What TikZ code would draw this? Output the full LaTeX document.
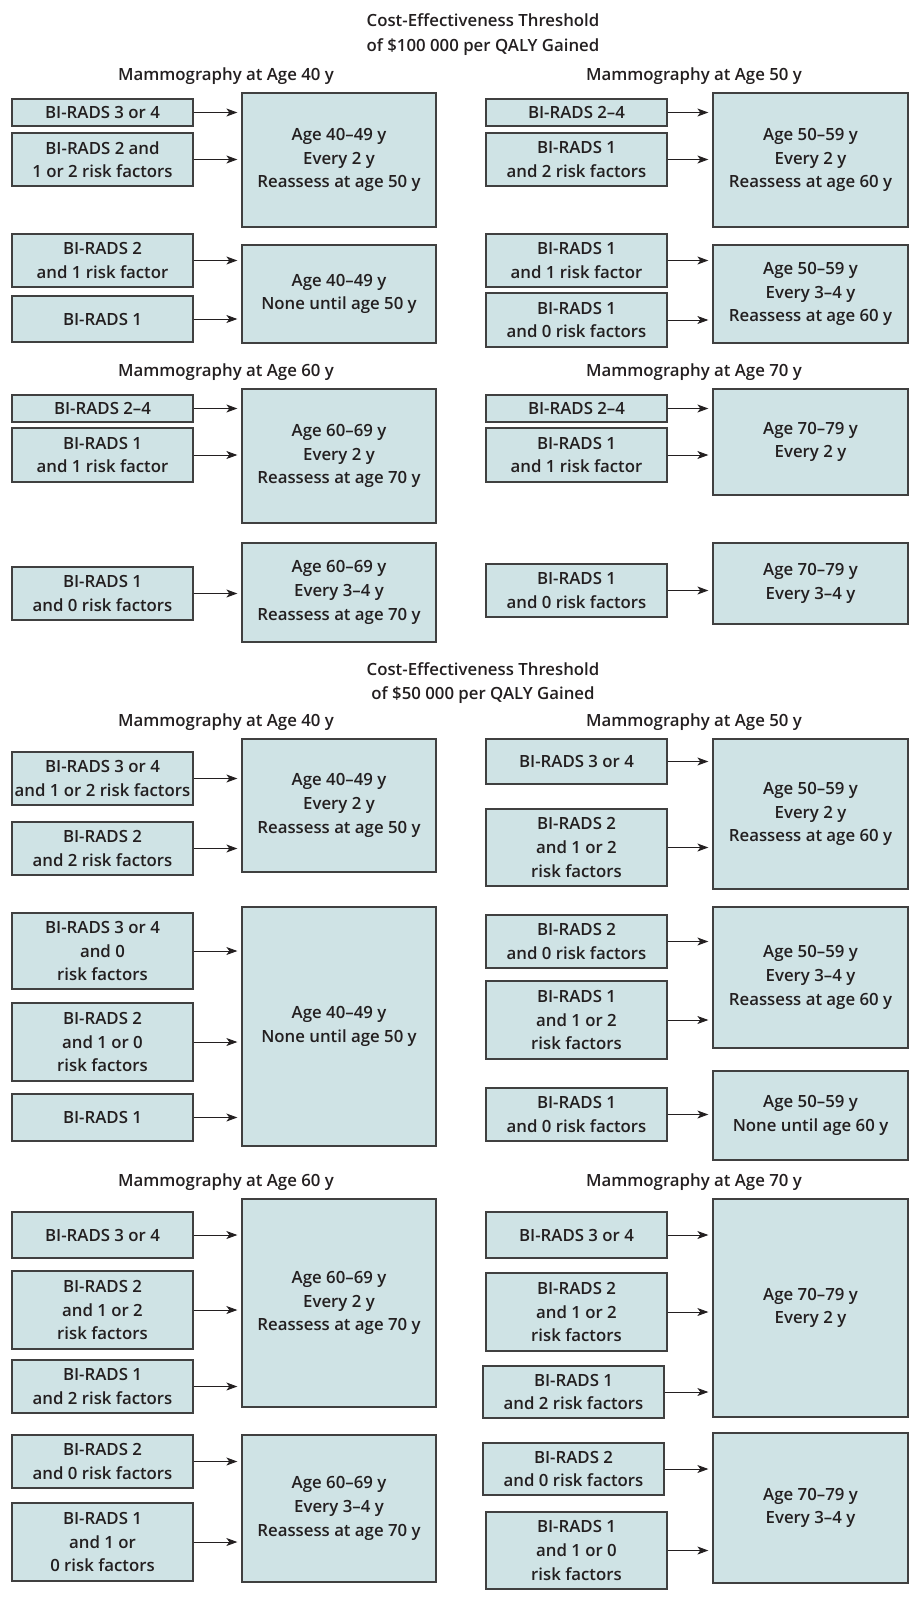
\documentclass[tikz,border=0pt]{standalone}
\usepackage{fontspec}
\IfFontExistsTF{Open Sans SemiBold}{\setmainfont{Open Sans SemiBold}}{%
  \IfFontExistsTF{Open Sans Semibold}{\setmainfont{Open Sans Semibold}}{%
    \setmainfont{Open Sans}[FakeBold=1.2]}}
\usetikzlibrary{arrows.meta,calc}
\definecolor{boxc}{HTML}{CFE3E5}
\definecolor{bordc}{HTML}{404040}
\definecolor{txtc}{HTML}{231F20}
\newcommand\fs{\fontsize{16.8}{23.6}\selectfont}
\newcommand\bx[6]{\node[box, minimum width={(#4-#2)*1pt}, minimum height={(#5-#3)*1pt}] (#1) at ({(#2+#4)/2},{(#3+#5)/2}) {#6};}
\newcommand\ar[2]{\draw[arr] (#1.east) -- (#1.east -| #2.west);}
\begin{document}
\begin{tikzpicture}[x=1pt,y=-1pt,
  box/.style={draw=bordc, fill=boxc, line width=1.3pt, inner sep=0pt, align=center, font=\fs, text=txtc},
  hdr/.style={inner sep=0pt, anchor=base, font=\fs, text=txtc},
  arr/.style={draw=txtc, line width=0.9pt, -{Stealth[length=11pt,width=8pt,inset=3pt]}, shorten >=4pt}]
\useasboundingbox (0,0) rectangle (913,1598);
% ---------- 100k ----------
\node[hdr] (T1a) at (483,27) {Cost-Effectiveness Threshold};
\node[hdr] (T1b) at (483,51) {of \$100 000 per QALY Gained};
\node[hdr] (H40a) at (226,80) {Mammography at Age 40 y};
\node[hdr] (H50a) at (694,80) {Mammography at Age 50 y};
\node[hdr] (H60a) at (226,376) {Mammography at Age 60 y};
\node[hdr] (H70a) at (694,376) {Mammography at Age 70 y};
% age 40
\bx{A1}{12}{99}{193}{126}{BI-RADS 3 or 4}
\bx{A2}{12}{133}{193}{186}{BI-RADS 2 and\\1 or 2 risk factors}
\bx{A3}{12}{234}{193}{287}{BI-RADS 2\\and 1 risk factor}
\bx{A4}{12}{296}{193}{342}{BI-RADS 1}
\bx{RA1}{242}{93}{436}{227}{Age 40–49 y\\Every 2 y\\Reassess at age 50 y}
\bx{RA2}{242}{245}{436}{343}{Age 40–49 y\\None until age 50 y}
\ar{A1}{RA1}\ar{A2}{RA1}\ar{A3}{RA2}\ar{A4}{RA2}
% age 50
\bx{B1}{486}{99}{667}{126}{BI-RADS 2–4}
\bx{B2}{486}{133}{667}{186}{BI-RADS 1\\and 2 risk factors}
\bx{B3}{486}{234}{667}{287}{BI-RADS 1\\and 1 risk factor}
\bx{B4}{486}{293}{667}{347}{BI-RADS 1\\and 0 risk factors}
\bx{RB1}{713}{93}{908}{227}{Age 50–59 y\\Every 2 y\\Reassess at age 60 y}
\bx{RB2}{713}{245}{908}{343}{Age 50–59 y\\Every 3–4 y\\Reassess at age 60 y}
\ar{B1}{RB1}\ar{B2}{RB1}\ar{B3}{RB2}\ar{B4}{RB2}
% age 60
\bx{C1}{12}{395}{193}{422}{BI-RADS 2–4}
\bx{C2}{12}{428}{193}{482}{BI-RADS 1\\and 1 risk factor}
\bx{C3}{12}{567}{193}{620}{BI-RADS 1\\and 0 risk factors}
\bx{RC1}{242}{389}{436}{523}{Age 60–69 y\\Every 2 y\\Reassess at age 70 y}
\bx{RC2}{242}{543}{436}{642}{Age 60–69 y\\Every 3–4 y\\Reassess at age 70 y}
\ar{C1}{RC1}\ar{C2}{RC1}\ar{C3}{RC2}
% age 70
\bx{D1}{486}{395}{667}{422}{BI-RADS 2–4}
\bx{D2}{486}{428}{667}{482}{BI-RADS 1\\and 1 risk factor}
\bx{D3}{486}{564}{667}{617}{BI-RADS 1\\and 0 risk factors}
\bx{RD1}{713}{389}{908}{495}{Age 70–79 y\\Every 2 y}
\bx{RD2}{713}{543}{908}{624}{Age 70–79 y\\Every 3–4 y}
\ar{D1}{RD1}\ar{D2}{RD1}\ar{D3}{RD2}
% ---------- 50k ----------
\node[hdr] (T2a) at (483,675) {Cost-Effectiveness Threshold};
\node[hdr] (T2b) at (483,699) {of \$50 000 per QALY Gained};
\node[hdr] (H40b) at (226,726) {Mammography at Age 40 y};
\node[hdr] (H50b) at (694,726) {Mammography at Age 50 y};
\node[hdr] (H60b) at (226,1186) {Mammography at Age 60 y};
\node[hdr] (H70b) at (694,1186) {Mammography at Age 70 y};
% age 40
\bx{E1}{12}{752}{193}{805}{BI-RADS 3 or 4\\and 1 or 2 risk factors}
\bx{E2}{12}{822}{193}{875}{BI-RADS 2\\and 2 risk factors}
\bx{E3}{12}{913}{193}{989}{BI-RADS 3 or 4\\and 0\\risk factors}
\bx{E4}{12}{1003}{193}{1081}{BI-RADS 2\\and 1 or 0\\risk factors}
\bx{E5}{12}{1094}{193}{1141}{BI-RADS 1}
\bx{RE1}{242}{739}{436}{872}{Age 40–49 y\\Every 2 y\\Reassess at age 50 y}
\bx{RE2}{242}{907}{436}{1146}{Age 40–49 y\\None until age 50 y}
\ar{E1}{RE1}\ar{E2}{RE1}\ar{E3}{RE2}\ar{E4}{RE2}\ar{E5}{RE2}
% age 50
\bx{F1}{486}{739}{667}{784}{BI-RADS 3 or 4}
\bx{F2}{486}{809}{667}{886}{BI-RADS 2\\and 1 or 2\\risk factors}
\bx{F3}{486}{915}{667}{968}{BI-RADS 2\\and 0 risk factors}
\bx{F4}{486}{981}{667}{1059}{BI-RADS 1\\and 1 or 2\\risk factors}
\bx{F5}{486}{1088}{667}{1141}{BI-RADS 1\\and 0 risk factors}
\bx{RF1}{713}{739}{908}{889}{Age 50–59 y\\Every 2 y\\Reassess at age 60 y}
\bx{RF2}{713}{907}{908}{1048}{Age 50–59 y\\Every 3–4 y\\Reassess at age 60 y}
\bx{RF3}{713}{1071}{908}{1160}{Age 50–59 y\\None until age 60 y}
\ar{F1}{RF1}\ar{F2}{RF1}\ar{F3}{RF2}\ar{F4}{RF2}\ar{F5}{RF3}
% age 60
\bx{G1}{12}{1212}{193}{1258}{BI-RADS 3 or 4}
\bx{G2}{12}{1271}{193}{1349}{BI-RADS 2\\and 1 or 2\\risk factors}
\bx{G3}{12}{1360}{193}{1413}{BI-RADS 1\\and 2 risk factors}
\bx{G4}{12}{1435}{193}{1488}{BI-RADS 2\\and 0 risk factors}
\bx{G5}{12}{1503}{193}{1581}{BI-RADS 1\\and 1 or\\0 risk factors}
\bx{RG1}{242}{1199}{436}{1407}{Age 60–69 y\\Every 2 y\\Reassess at age 70 y}
\bx{RG2}{242}{1435}{436}{1582}{Age 60–69 y\\Every 3–4 y\\Reassess at age 70 y}
\ar{G1}{RG1}\ar{G2}{RG1}\ar{G3}{RG1}\ar{G4}{RG2}\ar{G5}{RG2}
% age 70
\bx{K1}{486}{1212}{667}{1258}{BI-RADS 3 or 4}
\bx{K2}{486}{1273}{667}{1351}{BI-RADS 2\\and 1 or 2\\risk factors}
\bx{K3}{483}{1366}{664}{1418}{BI-RADS 1\\and 2 risk factors}
\bx{K4}{483}{1443}{664}{1495}{BI-RADS 2\\and 0 risk factors}
\bx{K5}{486}{1512}{667}{1589}{BI-RADS 1\\and 1 or 0\\risk factors}
\bx{RK1}{713}{1199}{908}{1417}{Age 70–79 y\\Every 2 y}
\bx{RK2}{713}{1433}{908}{1583}{Age 70–79 y\\Every 3–4 y}
\ar{K1}{RK1}\ar{K2}{RK1}\ar{K3}{RK1}\ar{K4}{RK2}\ar{K5}{RK2}
\end{tikzpicture}
\end{document}
